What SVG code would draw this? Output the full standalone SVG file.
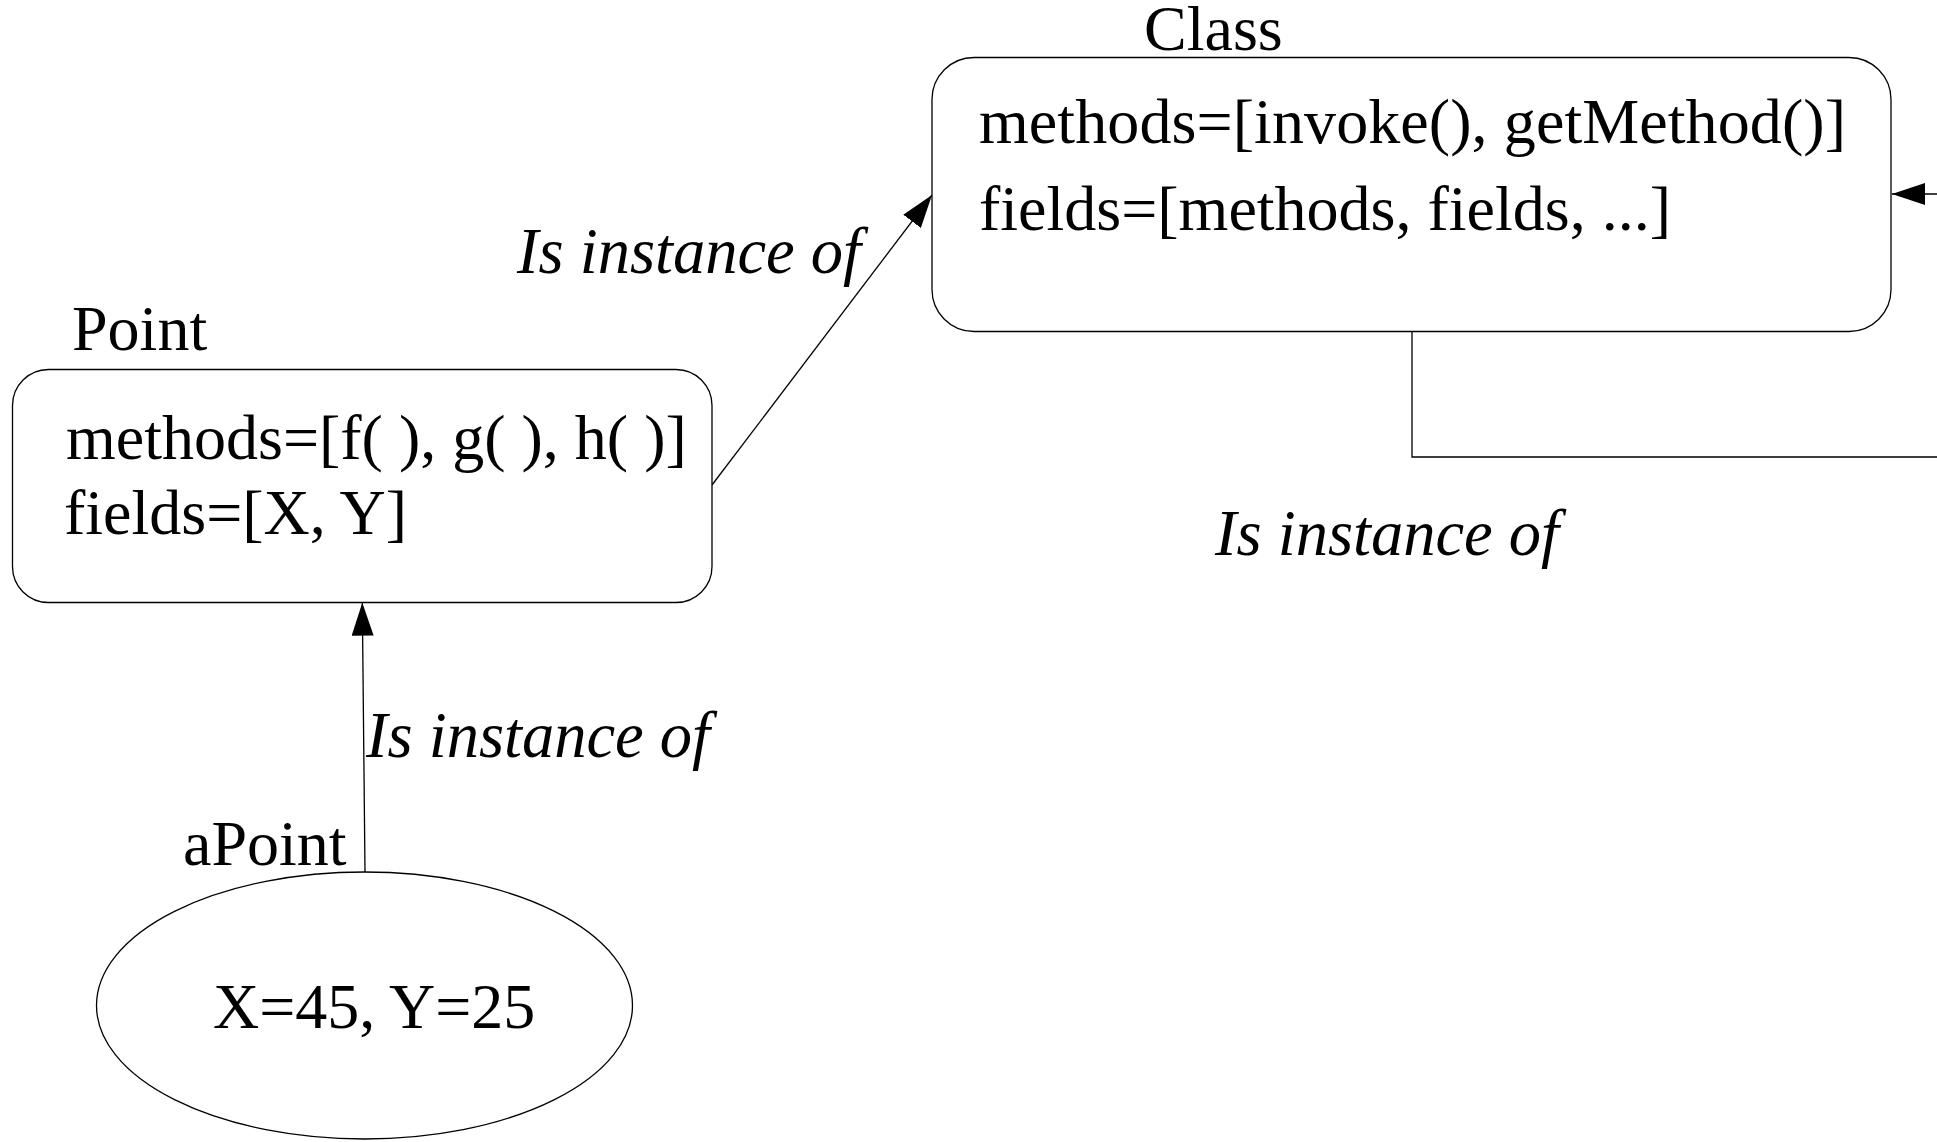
<svg xmlns="http://www.w3.org/2000/svg" width="1937" height="1142" viewBox="0 0 1937 1142">
  <style>
    .box { fill: #ffffff; stroke: #000000; stroke-width: 1.3; }
    .edge { fill: none; stroke: #000000; stroke-width: 1.3; }
    .txt { font-family: "Liberation Serif", "Times New Roman", serif; font-size: 64px; fill: #000000; }
    .lbl { font-family: "Liberation Serif", "Times New Roman", serif; font-size: 64.5px; font-style: italic; fill: #000000; }
  </style>
  <defs>
    <marker id="arrow" viewBox="0 0 33 22" refX="33" refY="11" markerWidth="33" markerHeight="22" markerUnits="userSpaceOnUse" orient="auto">
      <path d="M0,0 L33,11 L0,22 Z" fill="#000000"/>
    </marker>
  </defs>
  <rect width="1937" height="1142" fill="#ffffff"/>

  <!-- connectors -->
  <g id="connectors">
    <line class="edge" x1="712" y1="485" x2="932" y2="195" marker-end="url(#arrow)"/>
    <line class="edge" x1="365" y1="872" x2="362.3" y2="602.7" marker-end="url(#arrow)"/>
    <polyline class="edge" points="1412,331 1412,457 1937,457"/>
    <line class="edge" x1="1937" y1="194" x2="1892" y2="194" marker-end="url(#arrow)"/>
    <text class="lbl" x="517" y="273">Is instance of</text>
    <text class="lbl" x="1215" y="555">Is instance of</text>
    <text class="lbl" x="366" y="757">Is instance of</text>
  </g>

  <!-- Class -->
  <g id="class">
    <text class="txt" x="1144" y="50">Class</text>
    <rect class="box" x="932" y="57.5" width="959" height="274" rx="42" ry="42"/>
    <text class="txt" x="979" y="143" textLength="867">methods=[invoke(), getMethod()]</text>
    <text class="txt" x="979" y="230">fields=[methods, fields, ...]</text>
  </g>

  <!-- Point -->
  <g id="point">
    <text class="txt" x="72" y="350">Point</text>
    <rect class="box" x="12.5" y="369.5" width="699.5" height="233" rx="36" ry="36"/>
    <text class="txt" x="66" y="458.5">methods=[f( ), g( ), h( )]</text>
    <text class="txt" x="64" y="533.5">fields=[X, Y]</text>
  </g>

  <!-- aPoint -->
  <g id="apoint">
    <text class="txt" x="183" y="865">aPoint</text>
    <ellipse class="box" cx="364.5" cy="1005.5" rx="268" ry="133.5"/>
    <text class="txt" x="213" y="1028">X=45, Y=25</text>
  </g>
</svg>
